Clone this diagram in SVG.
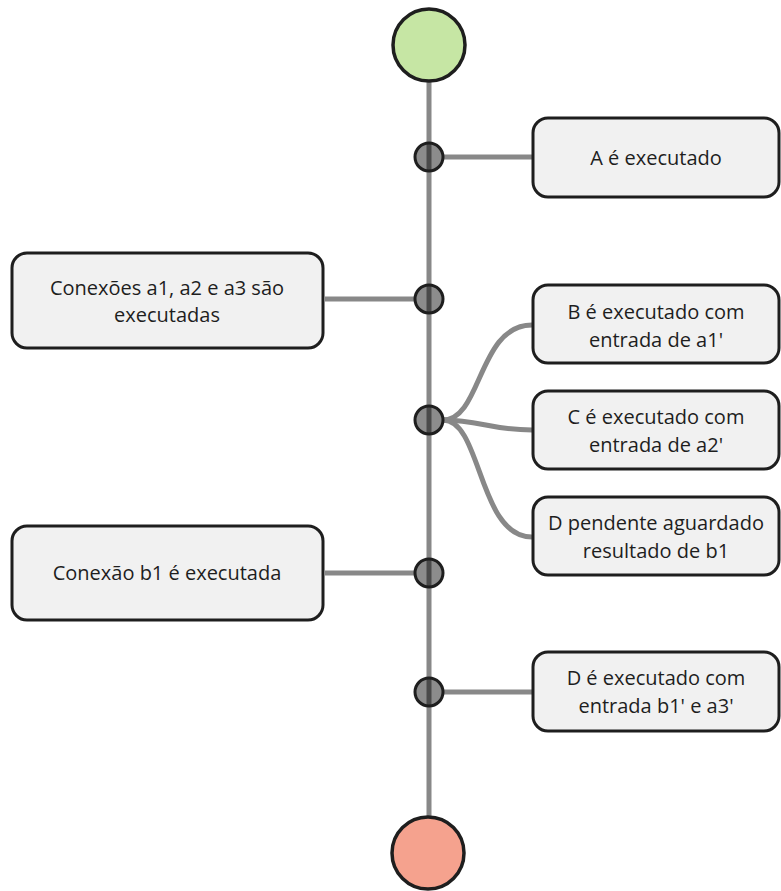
<svg xmlns="http://www.w3.org/2000/svg" width="781" height="891" viewBox="0 0 781 891">
<style>
.box{fill:#f1f1f1;stroke:#1e1e1e;stroke-width:3}
.lbl{font-family:"Open Sans","Noto Sans",sans-serif;font-size:20px;fill:#1e1e1e;text-anchor:middle;dominant-baseline:central}
.con{fill:none;stroke:#888;stroke-width:5}
.dot{fill:#000;fill-opacity:0.45;stroke:#1e1e1e;stroke-width:3}
.end{stroke:#1e1e1e;stroke-width:3.5}
</style>
<rect width="781" height="891" fill="#fff"/>
<g id="connectors">
<line class="con" x1="429" y1="80" x2="429" y2="818"/>
<line class="con" x1="443" y1="157" x2="532" y2="157"/>
<line class="con" x1="325" y1="299" x2="415" y2="299"/>
<path class="con" d="M443,420 C482,420 478,325 532,325"/>
<path class="con" d="M443,420 C480,420 490,430 532,430"/>
<path class="con" d="M443,420 C482,420 478,537 532,537"/>
<line class="con" x1="325" y1="573" x2="415" y2="573"/>
<line class="con" x1="443" y1="692" x2="532" y2="692"/>
</g>
<g id="start"><circle class="end" cx="429" cy="45" r="36" fill="#c6e6a4"/></g>
<g id="end"><circle class="end" cx="428" cy="853" r="36" fill="#f5a28e"/></g>
<g id="d1"><circle class="dot" cx="429" cy="157" r="14"/></g>
<g id="d2"><circle class="dot" cx="429" cy="299" r="14"/></g>
<g id="d3"><circle class="dot" cx="429" cy="420" r="14"/></g>
<g id="d4"><circle class="dot" cx="429" cy="573" r="14"/></g>
<g id="d5"><circle class="dot" cx="429" cy="692" r="14"/></g>
<g id="nA"><rect class="box" x="533" y="118" width="246" height="79" rx="15"/><text class="lbl" x="656" y="157">A é executado</text></g>
<g id="nCon"><rect class="box" x="12" y="253" width="311" height="95" rx="15"/><text class="lbl" x="167" y="287">Conexões a1, a2 e a3 são</text><text class="lbl" x="167" y="314">executadas</text></g>
<g id="nB"><rect class="box" x="533" y="285" width="246" height="78" rx="15"/><text class="lbl" x="656" y="311">B é executado com</text><text class="lbl" x="656" y="339">entrada de a1'</text></g>
<g id="nC"><rect class="box" x="533" y="391" width="246" height="78" rx="15"/><text class="lbl" x="656" y="416">C é executado com</text><text class="lbl" x="656" y="444">entrada de a2'</text></g>
<g id="nDp"><rect class="box" x="533" y="497" width="246" height="78" rx="15"/><text class="lbl" x="656" y="522">D pendente aguardado</text><text class="lbl" x="656" y="550">resultado de b1</text></g>
<g id="nB1"><rect class="box" x="12" y="526" width="311" height="94" rx="15"/><text class="lbl" x="167" y="572">Conexão b1 é executada</text></g>
<g id="nD"><rect class="box" x="533" y="652" width="246" height="79" rx="15"/><text class="lbl" x="656" y="677">D é executado com</text><text class="lbl" x="656" y="705">entrada b1' e a3'</text></g>
</svg>
